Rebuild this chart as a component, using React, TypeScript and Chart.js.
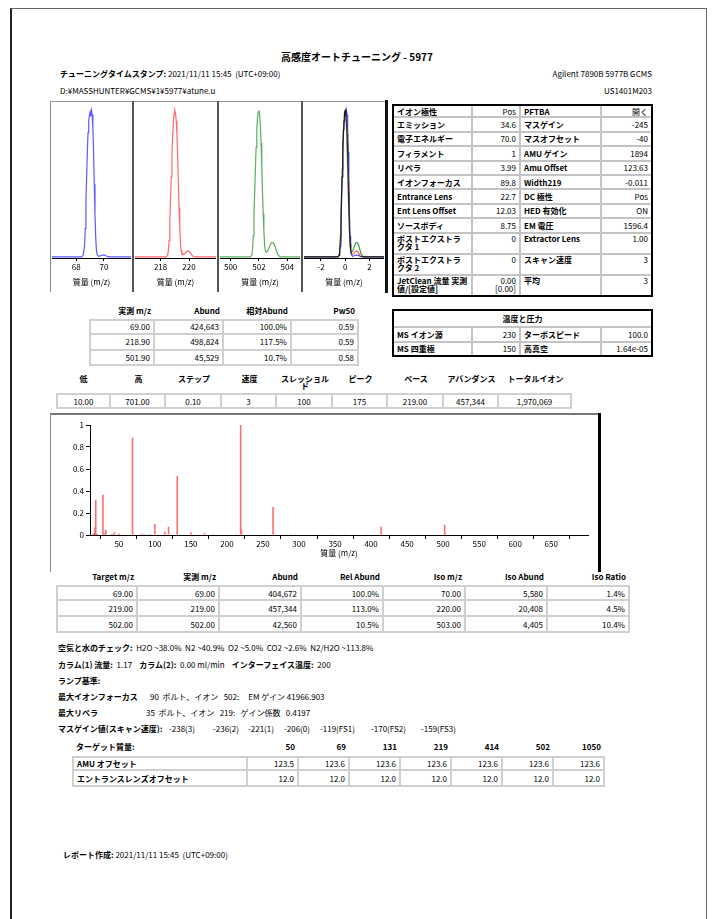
import React, { useEffect, useRef } from 'react';
import { Chart, registerables } from 'chart.js';

Chart.register(...registerables);

const FONT = '"Noto Sans CJK JP", "Noto Sans", sans-serif';

// ---------- profile peaks (normalised abundance) ----------
const peak69Mz = [65.4, 68.4, 68.5, 68.6, 68.65, 68.7, 68.75, 68.8, 68.85, 68.9, 68.95, 69.0, 69.05, 69.1, 69.15, 69.2, 69.25, 69.3, 69.35, 69.4, 69.45, 69.5, 69.6, 69.75, 69.9, 70.05, 70.2, 70.4, 72.6];
const peak69Abund = [0.008, 0.008, 0.02, 0.08, 0.2, 0.4, 0.55, 0.72, 0.85, 0.93, 0.97, 0.99, 0.96, 1.0, 0.97, 0.88, 0.72, 0.5, 0.3, 0.15, 0.06, 0.025, 0.012, 0.015, 0.02, 0.02, 0.012, 0.008, 0.008];

const peak219Mz = [215.4, 218.4, 218.5, 218.55, 218.6, 218.65, 218.7, 218.75, 218.8, 218.85, 218.9, 218.95, 219.0, 219.05, 219.1, 219.15, 219.2, 219.25, 219.3, 219.35, 219.4, 219.45, 219.5, 219.6, 219.7, 219.8, 219.9, 220.0, 220.1, 220.2, 220.3, 220.45, 222.6];
const peak219Abund = [0.008, 0.008, 0.02, 0.05, 0.12, 0.25, 0.4, 0.55, 0.7, 0.82, 0.92, 0.98, 1.0, 0.98, 0.93, 0.84, 0.7, 0.52, 0.34, 0.2, 0.1, 0.05, 0.03, 0.025, 0.03, 0.042, 0.048, 0.045, 0.035, 0.02, 0.01, 0.008, 0.008];

const peak502Mz = [498.4, 501.4, 501.5, 501.55, 501.6, 501.65, 501.7, 501.75, 501.8, 501.85, 501.9, 501.95, 502.0, 502.05, 502.1, 502.15, 502.2, 502.25, 502.3, 502.35, 502.4, 502.45, 502.5, 502.6, 502.7, 502.8, 502.9, 503.0, 503.1, 503.2, 503.3, 503.4, 503.5, 505.6];
const peak502Abund = [0.008, 0.008, 0.02, 0.06, 0.15, 0.3, 0.45, 0.6, 0.75, 0.87, 0.95, 0.99, 1.0, 0.97, 0.9, 0.78, 0.62, 0.45, 0.3, 0.18, 0.09, 0.05, 0.04, 0.045, 0.065, 0.09, 0.105, 0.105, 0.09, 0.06, 0.03, 0.015, 0.008, 0.008];

const overlayCenters = [69, 219, 502];
const panelTicks69 = [68, 70];
const panelTicks219 = [218, 220];
const panelTicks502 = [500, 502, 504];
const panelTicksOverlay = [-2, 0, 2];

// ---------- scan spectrum ----------
const specMajorMz = [18, 28, 32, 44, 69, 100, 114, 119, 131, 150, 169, 219, 220, 264, 414, 502];
const specMajorAbund = [0.32, 0.365, 0.045, 0.025, 0.885, 0.1, 0.03, 0.075, 0.535, 0.025, 0.018, 1.0, 0.05, 0.255, 0.075, 0.093];
const specMinorMz = [14, 15, 16, 17, 19, 20, 26, 29, 31, 40, 41, 43, 50, 51, 55, 57, 62, 64, 70, 74, 76, 81, 85, 93, 101, 112, 117, 130, 132, 143, 155, 162, 181, 193, 200, 214, 221, 226, 231, 243, 252, 265, 266, 276, 281, 290, 295, 314, 326, 345, 364, 376, 393, 415, 416, 426, 464, 465, 503, 504, 614];
const specMinorAbund = [0.01, 0.008, 0.015, 0.07, 0.012, 0.01, 0.005, 0.012, 0.02, 0.01, 0.006, 0.008, 0.012, 0.006, 0.006, 0.005, 0.004, 0.004, 0.01, 0.004, 0.005, 0.012, 0.01, 0.01, 0.004, 0.006, 0.006, 0.005, 0.01, 0.004, 0.004, 0.005, 0.01, 0.004, 0.004, 0.006, 0.006, 0.004, 0.004, 0.004, 0.003, 0.012, 0.004, 0.003, 0.003, 0.003, 0.003, 0.004, 0.003, 0.003, 0.003, 0.003, 0.003, 0.01, 0.004, 0.003, 0.004, 0.003, 0.012, 0.005, 0.004];
const specXTicks = [50, 100, 150, 200, 250, 300, 350, 400, 450, 500, 550, 600, 650];
const specYTicks = [0, 0.2, 0.4, 0.6, 0.8, 1];

// ---------- tune parameter tables ----------
const tuneNamesA = ['イオン極性', 'エミッション', '電子エネルギー', 'フィラメント', 'リペラ', 'イオンフォーカス', 'Entrance Lens', 'Ent Lens Offset', 'ソースボディ', 'ポストエクストラクタ 1', 'ポストエクストラクタ 2', 'JetClean 流量 実測値/[設定値]'];
const tuneValuesA = ['Pos', '34.6', '70.0', '1', '3.99', '89.8', '22.7', '12.03', '8.75', '0', '0', '0.00\n[0.00]'];
const tuneNamesB = ['PFTBA', 'マスゲイン', 'マスオフセット', 'AMU ゲイン', 'Amu Offset', 'Width219', 'DC 極性', 'HED 有効化', 'EM 電圧', 'Extractor Lens', 'スキャン速度', '平均'];
const tuneValuesB = ['開く', '-245', '-40', '1894', '123.63', '-0.011', 'Pos', 'ON', '1596.4', '1.00', '3', '3'];

const peakHead = ['実測 m/z', 'Abund', '相対Abund', 'Pw50'];
const peakRows = [
  ['69.00', '424,643', '100.0%', '0.59'],
  ['218.90', '498,824', '117.5%', '0.59'],
  ['501.90', '45,529', '10.7%', '0.58'],
];

const tempTitle = '温度と圧力';
const tempRows = [
  ['MS イオン源', '230', 'ターボスピード', '100.0'],
  ['MS 四重極', '150', '高真空', '1.64e-05'],
];

const scanHead = ['低', '高', 'ステップ', '速度', 'スレッショル\nド', 'ピーク', 'ベース', 'アバンダンス', 'トータルイオン'];
const scanValues = ['10.00', '701.00', '0.10', '3', '100', '175', '219.00', '457,344', '1,970,069'];

const isoHead = ['Target m/z', '実測 m/z', 'Abund', 'Rel Abund', 'Iso m/z', 'Iso Abund', 'Iso Ratio'];
const isoRows = [
  ['69.00', '69.00', '404,672', '100.0%', '70.00', '5,580', '1.4%'],
  ['219.00', '219.00', '457,344', '113.0%', '220.00', '20,408', '4.5%'],
  ['502.00', '502.00', '42,560', '10.5%', '503.00', '4,405', '10.4%'],
];

const rampMasses = ['50', '69', '131', '219', '414', '502', '1050'];
const amuOffsets = ['123.5', '123.6', '123.6', '123.6', '123.6', '123.6', '123.6'];
const entLensOffsets = ['12.0', '12.0', '12.0', '12.0', '12.0', '12.0', '12.0'];
const massGains = ['-238(3)', '-236(2)', '-221(1)', '-206(0)', '-119(FS1)', '-170(FS2)', '-159(FS3)'];
const massGainX = [169, 213, 248, 284, 320, 371, 421];

// ---------- helpers ----------
function T({ x, y, children, align = 'left', size = 8, bold = false, w = 300 }: any) {
  const style: any = {
    position: 'absolute', top: y - 7, height: 14, lineHeight: '14px', fontSize: size,
    fontWeight: bold ? 700 : 400, whiteSpace: 'pre', fontFamily: FONT, color: '#000',
  };
  if (align === 'left') style.left = x;
  else if (align === 'right') { style.left = x - w; style.width = w; style.textAlign = 'right'; }
  else { style.left = x - w / 2; style.width = w; style.textAlign = 'center'; }
  return <div style={style}>{children}</div>;
}

type CellSpec = { t: any; a?: string; b?: boolean; span?: number; top?: boolean };

function Grid({ x, y, cols, rows, cells, line = '2px solid #d0d0d0', outer, size = 8 }: any) {
  const xs = [0];
  cols.forEach((c: number) => xs.push(xs[xs.length - 1] + c));
  const ys = [0];
  rows.forEach((r: number) => ys.push(ys[ys.length - 1] + r));
  const W = xs[xs.length - 1];
  const H = ys[ys.length - 1];
  const out: any[] = [];
  cells.forEach((row: CellSpec[], ri: number) => {
    let ci = 0;
    row.forEach((cell, k) => {
      const span = cell.span || 1;
      const a = cell.a || 'r';
      out.push(
        <div key={ri + '-' + k} style={{
          position: 'absolute', left: xs[ci], top: ys[ri], width: xs[ci + span] - xs[ci], height: rows[ri],
          boxSizing: 'border-box', borderRight: line, borderBottom: line,
          borderLeft: ci === 0 ? line : undefined, borderTop: ri === 0 ? line : undefined,
          display: 'flex', alignItems: cell.top ? 'flex-start' : 'center',
          justifyContent: a === 'l' ? 'flex-start' : a === 'c' ? 'center' : 'flex-end',
          textAlign: a === 'l' ? 'left' : a === 'c' ? 'center' : 'right', whiteSpace: 'pre-line',
          padding: cell.top ? '1px 3px 0 3px' : '0 3px', fontSize: size, lineHeight: cell.top ? '8.5px' : '9px',
          fontWeight: cell.b ? 700 : 400, fontFamily: FONT, overflow: 'hidden', color: '#000',
        }}>{cell.t}</div>
      );
      ci += span;
    });
  });
  return (
    <div style={{ position: 'absolute', left: x, top: y, width: W, height: H }}>
      {out}
      {outer && <div style={{ position: 'absolute', left: 0, top: 0, width: W, height: H, border: outer, boxSizing: 'border-box' }} />}
    </div>
  );
}

function ChartCanvas({ left, top, width, height, build }: any) {
  const ref = useRef<HTMLCanvasElement>(null);
  useEffect(() => {
    const chart = new Chart(ref.current as HTMLCanvasElement, build());
    return () => chart.destroy();
  }, []);
  return <canvas ref={ref} width={width} height={height} style={{ position: 'absolute', left, top, width, height }} />;
}

const axisFont = { family: FONT, size: 8 };

// multiply blending so overlapping traces darken like the original overlay
const multiplyPlugin = {
  id: 'multiplyBlend',
  beforeDatasetsDraw(chart: any) { chart.ctx.save(); chart.ctx.globalCompositeOperation = 'multiply'; },
  afterDatasetsDraw(chart: any) { chart.ctx.restore(); },
};

function peakConfig(series: { x: number[]; y: number[]; color: string }[], min: number, max: number, ticks: number[], blend: boolean): any {
  return {
    type: 'line',
    data: {
      datasets: series.map((s) => ({
        data: s.x.map((v, i) => ({ x: v, y: s.y[i] })),
        borderColor: s.color, borderWidth: 1.2, pointRadius: 0, tension: 0, fill: false,
      })),
    },
    plugins: blend ? [multiplyPlugin] : [],
    options: {
      animation: false, responsive: false, events: [],
      layout: { padding: { top: 3, left: 0, right: 0, bottom: 0 } },
      plugins: { legend: { display: false }, tooltip: { enabled: false } },
      scales: {
        x: {
          type: 'linear', min, max,
          afterBuildTicks: (ax: any) => { ax.ticks = ticks.map((v) => ({ value: v })); },
          afterFit: (ax: any) => { ax.height = 32; },
          ticks: { callback: (v: any) => String(v), font: axisFont, color: '#000', padding: 1, maxRotation: 0, autoSkip: false },
          grid: { drawOnChartArea: false, drawTicks: true, tickLength: 3, color: '#000' },
          border: { color: '#000', width: 1 },
          title: { display: true, text: '質量 (m/z)', font: axisFont, color: '#000', padding: { top: 0, bottom: 3 } },
        },
        y: { display: false, min: 0, max: 1.03 },
      },
    },
  };
}

function spectrumConfig(): any {
  return {
    type: 'bar',
    data: {
      datasets: [
        {
          data: specMinorMz.map((m, i) => ({ x: m, y: specMinorAbund[i] })),
          backgroundColor: 'rgb(205,0,0)', barThickness: 1, grouped: false, order: 2, inflateAmount: 0,
        },
        {
          data: specMajorMz.map((m, i) => ({ x: m, y: specMajorAbund[i] })),
          backgroundColor: 'rgb(255,110,110)', barThickness: 1.6, grouped: false, order: 1, inflateAmount: 0,
        },
      ],
    },
    options: {
      animation: false, responsive: false, events: [],
      layout: { padding: { top: 9, right: 10, left: 0, bottom: 0 } },
      plugins: { legend: { display: false }, tooltip: { enabled: false } },
      scales: {
        x: {
          type: 'linear', min: 10, max: 701, offset: false,
          afterBuildTicks: (ax: any) => { ax.ticks = specXTicks.map((v) => ({ value: v })); },
          afterFit: (ax: any) => { ax.height = 31; },
          ticks: { callback: (v: any) => String(v), font: axisFont, color: '#000', padding: 0, maxRotation: 0, autoSkip: false },
          grid: { drawOnChartArea: false, drawTicks: true, tickLength: 4, color: '#000' },
          border: { color: '#000', width: 1 },
          title: { display: true, text: '質量 (m/z)', font: axisFont, color: '#000', padding: { top: 0, bottom: 8 } },
        },
        y: {
          min: 0, max: 1,
          afterBuildTicks: (ax: any) => { ax.ticks = specYTicks.map((v) => ({ value: v })); },
          afterFit: (ax: any) => { ax.width = 38; },
          ticks: { callback: (v: any) => String(Math.round(v * 10) / 10), font: axisFont, color: '#000', padding: 2 },
          grid: { drawOnChartArea: false, drawTicks: true, tickLength: 4, color: '#000' },
          border: { color: '#000', width: 1 },
        },
      },
    },
  };
}

const panelDefs = [
  { left: 52, width: 79, min: 66.25, max: 71.95, ticks: panelTicks69, blend: false, series: [{ x: peak69Mz, y: peak69Abund, color: 'rgb(90,90,255)' }] },
  { left: 135, width: 81, min: 216.2, max: 221.9, ticks: panelTicks219, blend: false, series: [{ x: peak219Mz, y: peak219Abund, color: 'rgb(255,105,105)' }] },
  { left: 220, width: 80, min: 499.25, max: 504.9, ticks: panelTicks502, blend: false, series: [{ x: peak502Mz, y: peak502Abund, color: 'rgb(90,175,90)' }] },
  {
    left: 304, width: 80, min: -3.4, max: 3.2, ticks: panelTicksOverlay, blend: true,
    series: [
      { x: peak502Mz.map((v) => v - overlayCenters[2]), y: peak502Abund, color: 'rgb(60,160,60)' },
      { x: peak219Mz.map((v) => v - overlayCenters[1]), y: peak219Abund, color: 'rgb(255,100,100)' },
      { x: peak69Mz.map((v) => v - overlayCenters[0]), y: peak69Abund, color: 'rgb(80,80,255)' },
    ],
  },
];

const tuneRowHeights = [14.4, 14.4, 14.4, 14.4, 14.4, 14.4, 14.4, 14.4, 14.4, 21, 21, 21];

export default function App() {
  const tuneCells = tuneNamesA.map((n, i) => {
    const tall = i >= 9;
    return [
      { t: n, a: 'l', b: true, top: tall },
      { t: tuneValuesA[i], a: 'r', top: tall },
      { t: tuneNamesB[i], a: 'l', b: true, top: tall },
      { t: tuneValuesB[i], a: 'r', top: tall },
    ];
  });
  const tempCells = [
    [{ t: tempTitle, a: 'c', b: true, span: 4 }],
    ...tempRows.map((r) => [{ t: r[0], a: 'l', b: true }, { t: r[1] }, { t: r[2], a: 'l', b: true }, { t: r[3] }]),
  ];
  const peakCols = [66, 69, 68, 67];
  const scanCols = [55, 55, 56, 55, 56, 55, 56, 55, 73];
  const isoCols = [82, 82, 82, 82, 82, 82, 82];
  const rampCols = [176, 51, 51, 51, 51, 51, 51, 51];

  const colRights = (x0: number, cols: number[]) => {
    const r: number[] = [];
    let acc = x0;
    cols.forEach((c) => { acc += c; r.push(acc); });
    return r;
  };
  const peakRights = colRights(89, peakCols);
  const isoRights = colRights(56, isoCols);
  const rampRights = colRights(72, rampCols);
  const scanRights = colRights(56, scanCols);

  return (
    <div style={{ position: 'absolute', left: 0, top: 0, width: 719, height: 919, overflow: 'hidden', background: '#fff', fontFamily: FONT, color: '#000' }}>
      {/* page frame */}
      <div style={{ position: 'absolute', left: 10, top: 8, width: 697, height: 960, boxSizing: 'border-box', borderTop: '1px solid #666', borderRight: '1px solid #666', borderLeft: '2px solid #222' }} />

      {/* header */}
      <T x={357} y={57} align="center" w={400} size={10} bold>高感度オートチューニング - 5977</T>
      <T x={60} y={74}><b>チューニングタイムスタンプ:</b> 2021/11/11 15:45  (UTC+09:00)</T>
      <T x={652} y={74} align="right" w={200}>Agilent 7890B 5977B GCMS</T>
      <T x={60} y={91}>D:¥MASSHUNTER¥GCMS¥1¥5977¥atune.u</T>
      <T x={652} y={91} align="right" w={200}>US1401M203</T>

      {/* profile panels frame */}
      <div style={{ position: 'absolute', left: 50, top: 101, width: 338, height: 1, background: '#999' }} />
      <div style={{ position: 'absolute', left: 50, top: 101, width: 1, height: 191, background: '#888' }} />
      <div style={{ position: 'absolute', left: 132, top: 101, width: 2, height: 191, background: '#555' }} />
      <div style={{ position: 'absolute', left: 217, top: 101, width: 2, height: 191, background: '#555' }} />
      <div style={{ position: 'absolute', left: 301, top: 101, width: 2, height: 191, background: '#555' }} />
      <div style={{ position: 'absolute', left: 385, top: 100, width: 3, height: 193, background: '#111' }} />
      {panelDefs.map((p, i) => (
        <ChartCanvas key={i} left={p.left} top={103} width={p.width} height={187} build={() => peakConfig(p.series, p.min, p.max, p.ticks, p.blend)} />
      ))}

      {/* tune parameters */}
      <Grid x={392} y={104} cols={[81, 48, 81, 51]} rows={tuneRowHeights} cells={tuneCells} line="2px solid #c4c4c4" outer="2px solid #000" />

      {/* peak table */}
      {peakHead.map((h, i) => <T key={i} x={peakRights[i] - 4} y={311} align="right" w={80} bold>{h}</T>)}
      <Grid x={89} y={319} cols={peakCols} rows={[15.8, 15.8, 15.8]} cells={peakRows.map((r) => r.map((v) => ({ t: v, a: 'r' })))} />

      {/* temperature table */}
      <Grid x={392} y={309} cols={[81, 48, 81, 51]} rows={[19, 14.5, 14.5]} cells={tempCells} line="2px solid #c4c4c4" outer="2px solid #000" />

      {/* scan parameters */}
      {scanHead.map((h, i) => {
        const c = scanRights[i] - scanCols[i] / 2;
        const lines = h.split('\n');
        return lines.map((ln, j) => <T key={i + '-' + j} x={c} y={379 + j * 7} align="center" w={80} bold>{ln}</T>);
      })}
      <Grid x={56} y={393} cols={scanCols} rows={[16]} cells={[scanValues.map((v) => ({ t: v, a: 'c' }))]} />

      {/* spectrum frame */}
      <div style={{ position: 'absolute', left: 50, top: 413, width: 550, height: 2, background: '#777' }} />
      <div style={{ position: 'absolute', left: 50, top: 413, width: 1, height: 159, background: '#888' }} />
      <div style={{ position: 'absolute', left: 598, top: 413, width: 3, height: 159, background: '#000' }} />
      <ChartCanvas left={52} top={416} width={546} height={150} build={spectrumConfig} />

      {/* iso table */}
      {isoHead.map((h, i) => <T key={i} x={isoRights[i] - 4} y={577} align="right" w={80} bold>{h}</T>)}
      <Grid x={56} y={585} cols={isoCols} rows={[16, 16, 16]} cells={isoRows.map((r) => r.map((v) => ({ t: v, a: 'r' })))} />

      {/* text block */}
      <T x={58} y={648}><b>空気と水のチェック:</b>  H2O ~38.0%  N2 ~40.9%  O2 ~5.0%  CO2 ~2.6%  N2/H2O ~113.8%</T>
      <T x={58} y={665}><b>カラム(1) 流量:</b>  1.17    <b>カラム(2):</b>  0.00 ml/min    <b>インターフェイス温度:</b>  200</T>
      <T x={58} y={681} bold>ランプ基準:</T>
      <T x={58} y={697} bold>最大イオンフォーカス</T>
      <T x={150} y={697}>{'90  ボルト、イオン   502:     EM ゲイン 41966.903'}</T>
      <T x={58} y={713} bold>最大リペラ</T>
      <T x={146} y={713}>{'35  ボルト、イオン   219:   ゲイン係数   0.4197'}</T>
      <T x={58} y={729} bold>マスゲイン値(スキャン速度):</T>
      {massGains.map((g, i) => <T key={i} x={massGainX[i]} y={729}>{g}</T>)}

      {/* ramp table */}
      <T x={76} y={747} bold>ターゲット質量:</T>
      {rampMasses.map((m, i) => <T key={i} x={rampRights[i + 1] - 4} y={747} align="right" w={50} bold>{m}</T>)}
      <Grid x={72} y={756} cols={rampCols} rows={[15, 16]} cells={[
        [{ t: 'AMU オフセット', a: 'l', b: true }, ...amuOffsets.map((v) => ({ t: v, a: 'r' }))],
        [{ t: 'エントランスレンズオフセット', a: 'l', b: true }, ...entLensOffsets.map((v) => ({ t: v, a: 'r' }))],
      ]} />

      {/* footer */}
      <T x={63} y={855}><b>レポート作成:</b> 2021/11/11 15:45  (UTC+09:00)</T>
    </div>
  );
}
